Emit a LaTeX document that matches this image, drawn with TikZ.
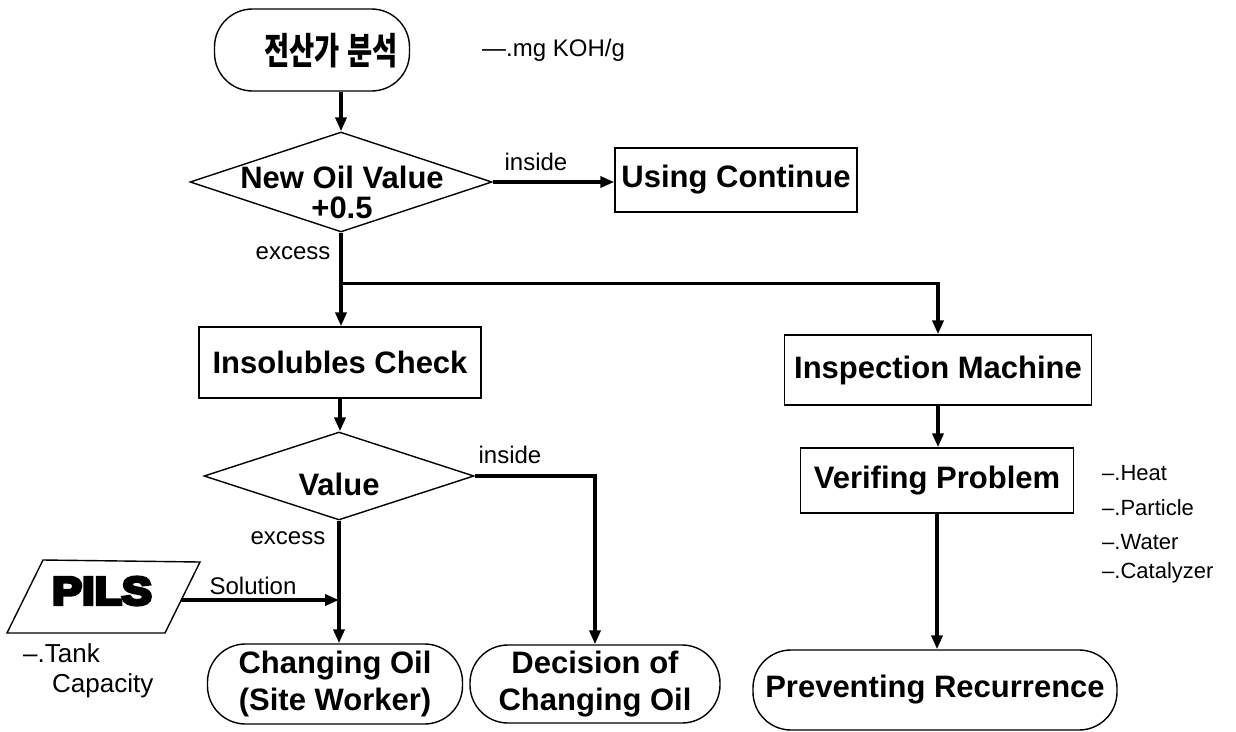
\documentclass[tikz,border=0pt]{standalone}
\usepackage{fontspec}
\setmainfont{Liberation Sans}
\newfontfamily\krfont{Noto Sans CJK KR}
\newfontfamily\heavyfont[FakeBold=9,FakeStretch=1.15]{Liberation Sans}
\usetikzlibrary{arrows.meta,shapes.geometric,calc}
\begin{document}
\begin{tikzpicture}[x=1pt,y=-1pt,
  box/.style={draw,line width=1.4pt,rectangle,inner sep=0pt},
  term/.style={draw,line width=1.4pt,rectangle,rounded corners=38pt,inner sep=0pt},
  diam/.style={draw,line width=1.4pt,diamond,inner sep=0pt},
  conn/.style={line width=3.5pt,-{Triangle[length=14pt,width=11pt]}},
  bigtxt/.style={font=\fontsize{31}{37}\selectfont\bfseries,align=center,inner sep=0pt},
  lbl/.style={font=\fontsize{24}{28}\selectfont,inner sep=0pt},
  note/.style={font=\fontsize{22}{26}\selectfont,inner sep=0pt,anchor=west}]
\useasboundingbox (0,0) rectangle (1236,731);
% start
\node[term,minimum width=195pt,minimum height=82pt] (start) at (312,50) {};
\node[inner sep=0pt,font=\fontsize{37}{40}\selectfont\krfont\bfseries] (starttxt) at (331,51) {\scalebox{0.74}[1]{전산가\hspace{10pt}분석}};
\node[lbl,anchor=west] (koh) at (482,50) {—.mg KOH/g};
% decision 1
\node[diam,minimum width=302pt,minimum height=100pt] (d1) at (341,182) {};
\node[bigtxt,font=\fontsize{31}{30}\selectfont\bfseries] (d1txt) at (342,192) {New Oil Value\\+0.5};
% using continue
\node[box,minimum width=242pt,minimum height=64pt,bigtxt] (usecont) at (736,180) {Using Continue};
% insolubles
\node[box,minimum width=282pt,minimum height=71pt,bigtxt] (ins) at (340,362.5) {Insolubles Check};
% decision 2
\node[diam,minimum width=270pt,minimum height=88pt] (d2) at (339,476) {};
\node[bigtxt] (d2txt) at (339,484) {Value};
% outcomes
\node[term,minimum width=255pt,minimum height=80pt,bigtxt] (chg) at (335,684) {Changing Oil\\(Site Worker)};
\node[term,minimum width=250pt,minimum height=78pt,bigtxt] (dec) at (595,684) {Decision of\\Changing Oil};
% right column
\node[box,minimum width=307pt,minimum height=70pt,bigtxt] (insp) at (938,370) {Inspection Machine};
\node[box,minimum width=273pt,minimum height=65pt,bigtxt] (ver) at (937,480.5) {Verifing Problem};
\node[term,minimum width=364pt,minimum height=80pt,bigtxt] (prev) at (935,690) {Preventing Recurrence};
% PILS
\draw[line width=1.4pt] (7,633) -- (43,560) -- (200,562) -- (165,633) -- cycle;
\node[inner sep=0pt,font=\fontsize{39}{42}\selectfont\heavyfont\bfseries] (pils) at (102,591) {PILS};
\coordinate (pilsR) at (181,600);
\node[note,font=\fontsize{26}{30}\selectfont] (tank) at (23,653) {–.Tank};
\node[note,font=\fontsize{26}{30}\selectfont] (cap) at (52,686) {Capacity};
% bullets
\node[note] (b1) at (1102,473) {–.Heat};
\node[note] (b2) at (1102,508) {–.Particle};
\node[note] (b3) at (1102,542) {–.Water};
\node[note] (b4) at (1102,573) {–.Catalyzer};
% connectors
\draw[conn] (d1.north |- start.south) -- (d1.north);
\draw[conn] (d1.east) -- (d1.east -| usecont.west);
\node[lbl] (in1) at (536,162) {inside};
\draw[conn] (d1.south) -- (d1.south |- ins.north);
\node[lbl] (ex1) at (293,253) {excess};
\path (d1.south) ++(0,51) coordinate (j);
\draw[conn] (j) -| (insp.north);
\draw[conn] (ins.south) -- (ins.south |- d2.north);
\draw[conn] (d2.south) -- (d2.south |- chg.north);
\node[lbl] (ex2) at (288,538) {excess};
\draw[conn] (d2.east) -| (dec.north);
\node[lbl] (in2) at (510,455) {inside};
\draw[conn] (pilsR) -- (pilsR -| d2.south);
\node[lbl] (sol) at (253,586) {Solution};
\draw[conn] (insp.south) -- (insp.south |- ver.north);
\draw[conn] (ver.south) -- (ver.south |- prev.north);
\end{tikzpicture}
\end{document}
